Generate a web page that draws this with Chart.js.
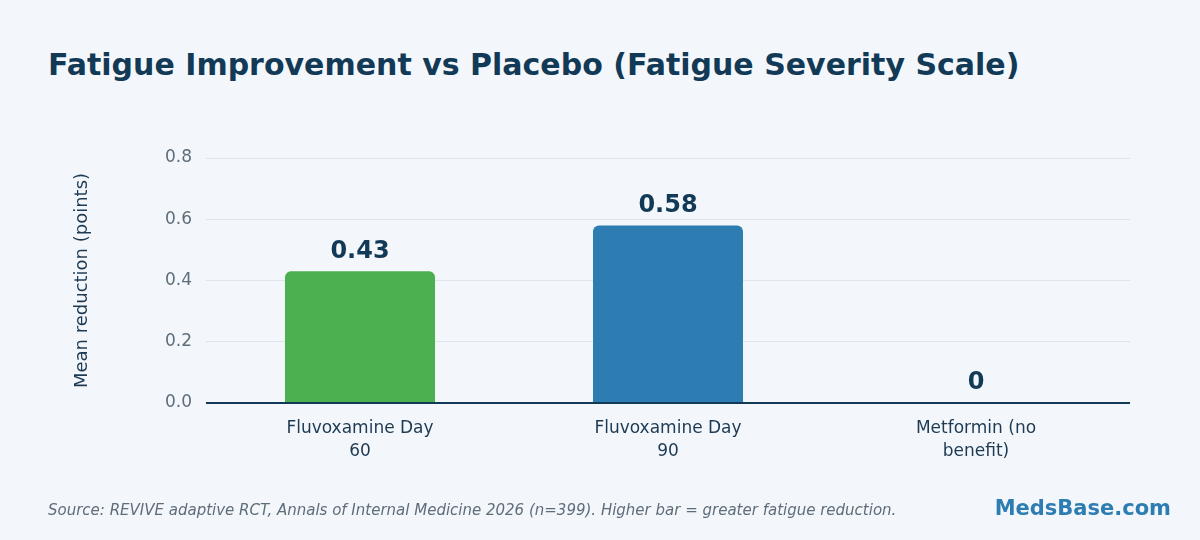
<!DOCTYPE html>
<html>
<head>
<meta charset="utf-8">
<script src="https://cdn.jsdelivr.net/npm/chart.js@4/dist/chart.umd.min.js"></script>
<style>
  html, body { margin: 0; padding: 0; background: #f3f7fb; }
  #wrap { position: relative; width: 1200px; height: 540px; font-family: "DejaVu Sans", sans-serif; }
  #title { position: absolute; left: 48px; top: 47px; font-size: 30px; font-weight: bold; color: #123a56; white-space: nowrap; }
  #source { position: absolute; left: 48px; top: 501px; font-size: 15px; font-style: italic; color: #5f6d7a; white-space: nowrap; }
  #brand { position: absolute; right: 29px; top: 496px; font-size: 21px; font-weight: bold; color: #2e7db2; }
  canvas { position: absolute; left: 0; top: 0; }
</style>
</head>
<body>
<div id="wrap">
  <div id="title">Fatigue Improvement vs Placebo (Fatigue Severity Scale)</div>
  <canvas id="chart" width="1200" height="540"></canvas>
  <div id="source">Source: REVIVE adaptive RCT, Annals of Internal Medicine 2026 (n=399). Higher bar = greater fatigue reduction.</div>
  <div id="brand">MedsBase.com</div>
</div>
<script>
  const categories = [['Fluvoxamine Day', '60'], ['Fluvoxamine Day', '90'], ['Metformin (no', 'benefit)']];
  const reductions = [0.43, 0.58, 0];
  const valueLabels = ['0.43', '0.58', '0'];
  const barColors = ['#4caf50', '#2e7db2', '#9e9e9e'];

  const valueLabelPlugin = {
    id: 'valueLabels',
    afterDatasetsDraw(chart) {
      const ctx = chart.ctx;
      const meta = chart.getDatasetMeta(0);
      ctx.save();
      ctx.font = 'bold 24px "DejaVu Sans"';
      ctx.fillStyle = '#123a56';
      ctx.textAlign = 'center';
      ctx.textBaseline = 'middle';
      meta.data.forEach(function(bar, i) {
        ctx.fillText(valueLabels[i], bar.x, bar.y - 20);
      });
      ctx.restore();
    }
  };

  const zeroLinePlugin = {
    id: 'zeroLine',
    afterDatasetsDraw(chart) {
      const ctx = chart.ctx;
      const y = chart.scales.y.getPixelForValue(0);
      ctx.save();
      ctx.strokeStyle = '#123a56';
      ctx.lineWidth = 2;
      ctx.beginPath();
      ctx.moveTo(chart.chartArea.left, y);
      ctx.lineTo(chart.chartArea.right, y);
      ctx.stroke();
      ctx.restore();
    }
  };

  new Chart(document.getElementById('chart'), {
    type: 'bar',
    data: {
      labels: categories,
      datasets: [{
        data: reductions,
        backgroundColor: barColors,
        borderRadius: 6,
        borderSkipped: 'bottom',
        barPercentage: 0.487,
        categoryPercentage: 1
      }]
    },
    options: {
      responsive: false,
      animation: false,
      layout: { padding: { top: 158, right: 70, left: 72, bottom: 70 } },
      plugins: { legend: { display: false }, tooltip: { enabled: false } },
      scales: {
        x: {
          afterFit(scale) { scale.height = 67; },
          grid: { display: false, drawTicks: false },
          border: { display: false },
          ticks: { color: '#1e3a52', font: { family: 'DejaVu Sans', size: 17, lineHeight: 1.3 }, padding: 15, maxRotation: 0 }
        },
        y: {
          min: 0, max: 0.8,
          afterFit(scale) { scale.width = 134; },
          grid: { color: '#dde5ec', drawTicks: false },
          border: { display: false },
          ticks: {
            stepSize: 0.2, color: '#5f6d7a', padding: 14,
            font: { family: 'DejaVu Sans', size: 17 },
            callback: function(v) { return v.toFixed(1); }
          },
          title: { display: true, text: 'Mean reduction (points)', color: '#1e3a52', font: { family: 'DejaVu Sans', size: 18 }, padding: 0 }
        }
      }
    },
    plugins: [valueLabelPlugin, zeroLinePlugin]
  });
</script>
</body>
</html>
